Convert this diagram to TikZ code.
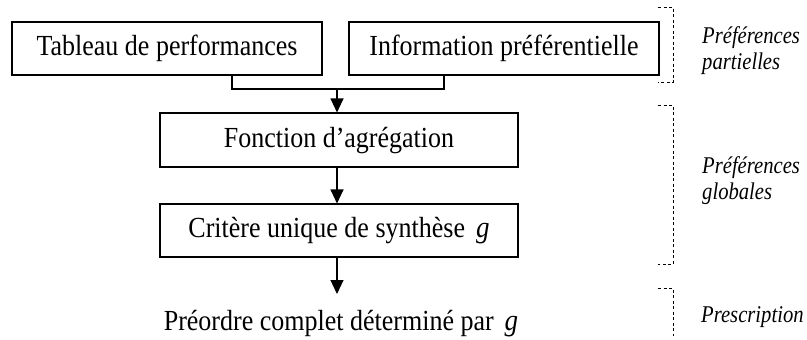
\documentclass[tikz,border=0pt]{standalone}
\usepackage{fontspec}
\setmainfont{Liberation Serif}
\usetikzlibrary{arrows.meta}
\newcommand\mtx[1]{\scalebox{1}[1.12]{\fontsize{26}{30}\selectfont #1}}
\newcommand\myg{{\fontsize{27}{30}\selectfont\itshape g}}
\newcommand\itl[1]{\scalebox{0.86}[1]{#1}}
\begin{document}
\begin{tikzpicture}[x=1pt,y=-1pt,
  box/.style={draw,line width=1.1pt,inner sep=0pt,text height=19pt,text depth=5pt},
  lbl/.style={font=\fontsize{24}{26}\selectfont\itshape,align=left,inner sep=0pt},
  br/.style={line width=0.8pt,dash pattern=on 3pt off 2.5pt},
  conn/.style={line width=1.1pt},
  arr/.style={line width=1.1pt,-{Triangle[width=13pt,length=14pt]}}]
\useasboundingbox (0,0) rectangle (807,340);
\node[box,minimum width=310pt,minimum height=53pt] (tab) at (167,48.5) {\mtx{Tableau de performances}};
\node[box,minimum width=310pt,minimum height=53pt] (inf) at (504,48.5) {\mtx{Information préférentielle}};
\node[box,minimum width=358pt,minimum height=54pt] (fon) at (339,140) {\mtx{Fonction d’agrégation}};
\node[box,minimum width=358pt,minimum height=53pt] (cri) at (339,230.5) {\mtx{Critère unique de synthèse\hspace{11pt}\myg}};
\node[inner sep=0pt,anchor=base] (pre) at (341,330) {\mtx{Préordre complet déterminé par\hspace{11pt}\myg}};
\coordinate (j1) at (232,89);
\coordinate (j2) at (444,89);
\coordinate (m) at (337,89);
\draw[conn] (tab.south -| j1) -- (j1) -- (j2) -- (inf.south -| j2);
\draw[arr] (m) -- (fon.north -| m);
\draw[arr] (fon.south -| m) -- (cri.north -| m);
\coordinate (pe) at (337,294);
\draw[arr] (cri.south -| m) -- (pe);
% brackets
\draw[br] (658,7) -- (673,7) -- (673,82) -- (658,82);
\draw[br] (658,105) -- (673,105) -- (673,264) -- (658,264);
\draw[br] (658,288) -- (673,288) -- (673,336);
\node[lbl,anchor=west] (l1) at (702,51) {\itl{Préférences}\\\itl{partielles}};
\node[lbl,anchor=west] (l2) at (702,181) {\itl{Préférences}\\\itl{globales}};
\node[lbl,anchor=base west] (l3) at (701,322) {\itl{Prescription}};
\end{tikzpicture}
\end{document}
